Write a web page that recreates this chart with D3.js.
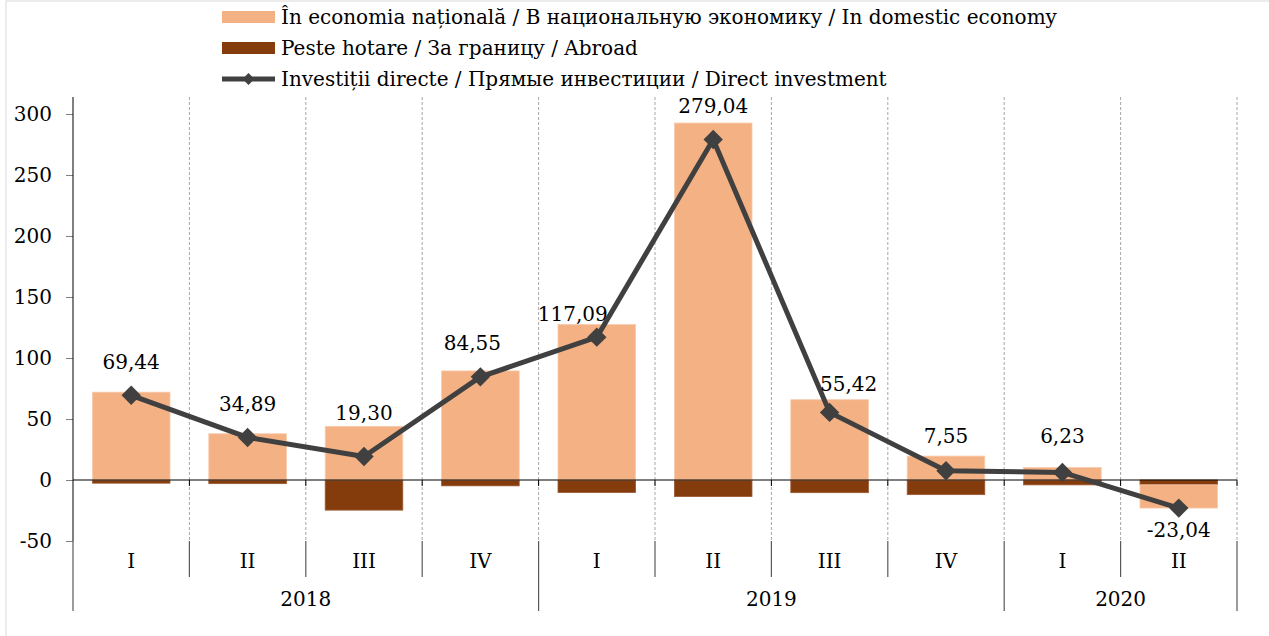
<!DOCTYPE html>
<html>
<head>
<meta charset="utf-8">
<script src="https://cdn.jsdelivr.net/npm/d3@7"></script>
<style>
  html, body { margin: 0; padding: 0; background: #fff; }
  svg { display: block; }
  text { font-family: "DejaVu Serif", "Liberation Serif", serif; fill: #000; }
</style>
</head>
<body>
<div id="chart"></div>
<script>
// data
var quarters = ["I", "II", "III", "IV", "I", "II", "III", "IV", "I", "II"];
var years = ["2018", "2019", "2020"];
var quartersPerYear = [4, 4, 2];
var domestic = [72.0, 37.9, 44.0, 89.4, 127.4, 292.6, 65.8, 19.6, 10.2, -19.0];
var abroad = [-2.6, -3.0, -24.7, -4.8, -10.3, -13.6, -10.4, -12.0, -4.0, -4.0];
var direct = [69.44, 34.89, 19.30, 84.55, 117.09, 279.04, 55.42, 7.55, 6.23, -23.04];
var yTicks = [-50, 0, 50, 100, 150, 200, 250, 300];
var legendLabels = [
  "În economia națională / В национальную экономику / In domestic economy",
  "Peste hotare / За границу / Abroad",
  "Investiții directe / Прямые инвестиции / Direct investment"
];

var W = 1269, H = 636;
var plot = {left: 73, right: 1237, top: 97, bottom: 541};
var colDomestic = "#f4b183", colAbroad = "#843c0c", colLine = "#404040";
var fs = 20;

var svg = d3.select("#chart").append("svg")
  .attr("width", W)
  .attr("height", H);

// outer chart border (only left and top edges visible)
svg.append("rect")
  .attr("x", 6).attr("y", 1)
  .attr("width", W + 20).attr("height", H + 20)
  .attr("fill", "none")
  .attr("stroke", "#d9d9d9");

var idx = d3.range(quarters.length);

var x = d3.scaleBand()
  .domain(idx)
  .range([plot.left, plot.right])
  .paddingInner(1 / 3)
  .paddingOuter(1 / 6);

var y = d3.scaleLinear()
  .domain([-50, 300])
  .range([541, 114]);

var step = x.step();
var boundary = function (i) { return plot.left + i * step; };

// dashed vertical gridlines at category boundaries
svg.append("g").selectAll("line")
  .data(d3.range(1, quarters.length + 1))
  .enter().append("line")
    .attr("x1", d => boundary(d)).attr("x2", d => boundary(d))
    .attr("y1", plot.top).attr("y2", plot.bottom)
    .attr("stroke", "#a6a6a6")
    .attr("stroke-width", 1)
    .attr("stroke-dasharray", "3,2");

// stacked bars (abroad closest to zero)
var rows = idx.map(i => ({i: i, abroad: abroad[i], domestic: domestic[i]}));
var series = d3.stack()
  .keys(["abroad", "domestic"])
  .offset(d3.stackOffsetDiverging)(rows);

var colors = {abroad: colAbroad, domestic: colDomestic};
var strokes = {abroad: "#9c5a33", domestic: "#f8cbad"};

svg.append("g").selectAll("g")
  .data(series)
  .enter().append("g")
    .attr("fill", d => colors[d.key])
    .attr("stroke", d => strokes[d.key])
    .attr("stroke-width", 0.8)
  .selectAll("rect")
  .data(d => d)
  .enter().append("rect")
    .attr("x", d => x(d.data.i))
    .attr("y", d => y(Math.max(d[0], d[1])))
    .attr("width", x.bandwidth())
    .attr("height", d => Math.abs(y(d[0]) - y(d[1])));

// y axis
var yAxis = svg.append("g")
  .attr("transform", "translate(" + plot.left + ",0)")
  .call(d3.axisLeft(y).tickValues(yTicks).tickSize(7).tickPadding(14)
    .tickFormat(d => String(d)));
yAxis.select(".domain").remove();
yAxis.selectAll(".tick line").attr("stroke", "#808080");
yAxis.selectAll(".tick text")
  .attr("font-size", fs)
  .attr("font-family", null)
  .attr("fill", "#000");

svg.append("line")
  .attr("x1", plot.left).attr("x2", plot.left)
  .attr("y1", plot.top).attr("y2", plot.bottom)
  .attr("stroke", "#000");

// zero line with small ticks
svg.append("line")
  .attr("x1", plot.left).attr("x2", plot.right)
  .attr("y1", y(0)).attr("y2", y(0))
  .attr("stroke", "#000")
  .attr("stroke-width", 1.2);
svg.append("g").selectAll("line")
  .data(d3.range(1, quarters.length + 1))
  .enter().append("line")
    .attr("x1", d => boundary(d)).attr("x2", d => boundary(d))
    .attr("y1", y(0)).attr("y2", y(0) + 6)
    .attr("stroke", "#000");

// category axis: quarter separators and year separators
var yearStarts = [0];
quartersPerYear.forEach((n, k) => yearStarts.push(yearStarts[k] + n));

svg.append("g").selectAll("line")
  .data(d3.range(0, quarters.length + 1))
  .enter().append("line")
    .attr("x1", d => boundary(d)).attr("x2", d => boundary(d))
    .attr("y1", plot.bottom)
    .attr("y2", d => yearStarts.indexOf(d) >= 0 ? 611 : 577)
    .attr("stroke", "#595959")
    .attr("stroke-width", 1.2);

svg.append("g").selectAll("text")
  .data(quarters)
  .enter().append("text")
    .attr("x", (d, i) => x(i) + x.bandwidth() / 2)
    .attr("y", 568)
    .attr("text-anchor", "middle")
    .attr("font-size", fs)
    .text(d => d);

svg.append("g").selectAll("text")
  .data(years)
  .enter().append("text")
    .attr("x", (d, k) => (boundary(yearStarts[k]) + boundary(yearStarts[k + 1])) / 2)
    .attr("y", 606)
    .attr("text-anchor", "middle")
    .attr("font-size", fs)
    .text(d => d);

// line series
var cx = i => x(i) + x.bandwidth() / 2;
var line = d3.line()
  .x((d, i) => cx(i))
  .y(d => y(d));

svg.append("path")
  .datum(direct)
  .attr("d", line)
  .attr("fill", "none")
  .attr("stroke", colLine)
  .attr("stroke-width", 5)
  .attr("stroke-linejoin", "round");

var diamond = d3.symbol().type(d3.symbolDiamond2).size(240);
svg.append("g").selectAll("path")
  .data(direct)
  .enter().append("path")
    .attr("transform", (d, i) => "translate(" + cx(i) + "," + y(d) + ")")
    .attr("d", diamond)
    .attr("fill", colLine);

// value labels (manual placement, as in the source chart)
var labelOffset = [[0, -26], [0, -26], [0, -36], [-8, -27], [-24, -16], [0, -27], [19, -21], [0, -28], [0, -29], [0, 29]];
var fmt = d => d3.format(".2f")(d).replace(".", ",").replace("−", "-");
svg.append("g").selectAll("text")
  .data(direct)
  .enter().append("text")
    .attr("x", (d, i) => cx(i) + labelOffset[i][0])
    .attr("y", (d, i) => y(d) + labelOffset[i][1])
    .attr("text-anchor", "middle")
    .attr("font-size", fs)
    .text(d => fmt(d));

// legend
var legend = svg.append("g").attr("transform", "translate(222,0)");
var rowY = [17, 48, 79];
legend.append("rect").attr("x", 0).attr("y", rowY[0] - 6).attr("width", 53).attr("height", 12).attr("fill", colDomestic);
legend.append("rect").attr("x", 0).attr("y", rowY[1] - 6).attr("width", 53).attr("height", 12).attr("fill", colAbroad);
legend.append("line").attr("x1", 0).attr("x2", 53).attr("y1", rowY[2]).attr("y2", rowY[2])
  .attr("stroke", colLine).attr("stroke-width", 5);
legend.append("path")
  .attr("transform", "translate(26.5," + rowY[2] + ")")
  .attr("d", d3.symbol().type(d3.symbolDiamond2).size(90))
  .attr("fill", colLine);

legend.selectAll("text.lg")
  .data(legendLabels)
  .enter().append("text")
    .attr("class", "lg")
    .attr("x", 59)
    .attr("y", (d, i) => rowY[i] + 7)
    .attr("font-size", fs)
    .text(d => d);
</script>
</body>
</html>
